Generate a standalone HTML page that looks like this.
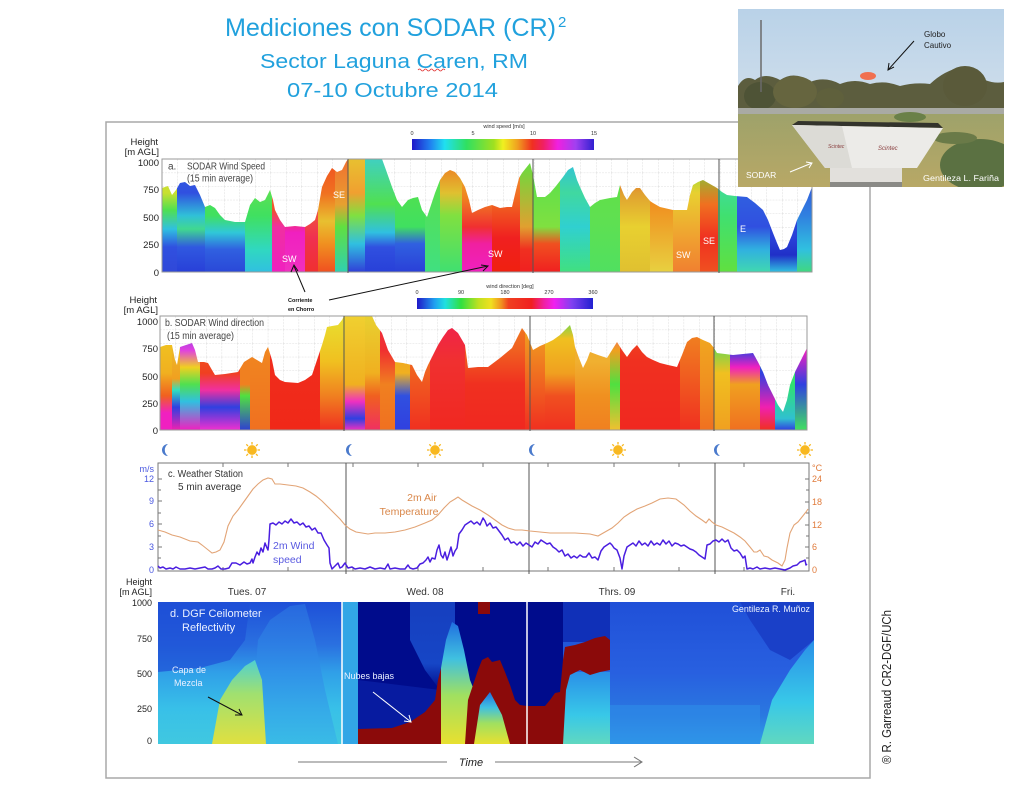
<!DOCTYPE html>
<html><head><meta charset="utf-8"><style>html,body{margin:0;padding:0;background:#fff}svg{display:block}</style></head><body>
<svg width="1031" height="788" viewBox="0 0 1031 788" xmlns="http://www.w3.org/2000/svg" font-family="Liberation Sans, Arial, sans-serif">
<defs>
<linearGradient id="cbA" x1="0" x2="1" y1="0" y2="0"><stop offset="0" stop-color="#2018c8"/><stop offset=".1" stop-color="#2080f0"/><stop offset=".18" stop-color="#20e0f0"/><stop offset=".3" stop-color="#30e060"/><stop offset=".45" stop-color="#a0e020"/><stop offset=".5" stop-color="#f0f020"/><stop offset=".58" stop-color="#f0a020"/><stop offset=".66" stop-color="#f03020"/><stop offset=".72" stop-color="#f02060"/><stop offset=".8" stop-color="#f020e0"/><stop offset=".9" stop-color="#a040f0"/><stop offset="1" stop-color="#3020d0"/></linearGradient>
<linearGradient id="cbB" x1="0" x2="1" y1="0" y2="0"><stop offset="0" stop-color="#2018c8"/><stop offset=".1" stop-color="#20a0f0"/><stop offset=".16" stop-color="#20e0e0"/><stop offset=".25" stop-color="#30e040"/><stop offset=".35" stop-color="#c0e020"/><stop offset=".42" stop-color="#f0e020"/><stop offset=".48" stop-color="#f09020"/><stop offset=".52" stop-color="#f04020"/><stop offset=".65" stop-color="#f02020"/><stop offset=".72" stop-color="#f020a0"/><stop offset=".78" stop-color="#f020f0"/><stop offset=".88" stop-color="#8040f0"/><stop offset="1" stop-color="#2020d0"/></linearGradient>

<pattern id="gridA" x="162" y="159" width="15.5" height="13.6" patternUnits="userSpaceOnUse"><path d="M0 0V13.6M0 0H15.5" stroke="#d4d4d4" stroke-width="0.8" fill="none" stroke-dasharray="2 1"/></pattern>
<pattern id="gridB" x="160" y="316" width="15.4" height="13.6" patternUnits="userSpaceOnUse"><path d="M0 0V13.6M0 0H15.4" stroke="#d4d4d4" stroke-width="0.8" fill="none" stroke-dasharray="2 1"/></pattern>

<clipPath id="clipA"><polygon points="162,188 168,186 172,195 176,190 180,183 185,182 190,186 195,185 200,195 205,207 210,205 215,208 220,215 225,220 235,222 245,222 250,205 255,198 260,202 265,200 270,190 273,200 275,210 280,220 285,227 295,226 305,227 310,224 315,220 318,210 322,187 327,176 332,168 337,172 342,170 346,162 348,159 382,159 386,170 392,187 397,200 402,207 408,200 413,198 418,197 422,210 427,217 431,205 435,193 440,180 445,173 450,170 455,172 460,178 465,187 469,200 472,213 478,210 485,207 492,205 500,208 507,207 512,207 516,190 519,178 522,173 526,168 530,163 533,175 537,197 545,197 550,193 556,186 563,177 568,170 573,167 577,180 580,187 585,198 590,207 595,203 600,200 610,198 617,197 620,185 624,195 627,200 632,192 636,188 640,188 645,195 650,201 653,203 660,207 673,210 680,210 687,210 690,195 693,185 698,182 703,180 710,184 717,188 722,192 727,195 735,196 747,197 755,203 763,210 768,220 773,233 777,243 780,250 784,249 787,247 792,235 797,220 802,210 807,200 812,187 812,272 162,272"/></clipPath>
<clipPath id="clipB"><polygon points="160,347 166,345 172,345 175,360 177,365 180,347 186,345 192,343 195,350 198,362 204,362 208,363 212,370 215,375 225,374 238,372 244,362 252,357 257,360 262,363 265,352 268,347 272,360 275,375 280,380 285,382 298,383 305,380 312,375 317,360 322,345 325,335 327,327 332,326 338,325 342,320 344,316 372,316 376,325 382,333 388,350 395,362 403,363 412,365 417,375 422,382 425,372 428,365 433,355 438,345 443,337 448,330 452,328 458,333 465,345 467,360 468,368 478,367 488,367 500,358 512,348 517,338 522,328 527,335 533,350 540,346 547,343 553,340 560,335 565,330 570,325 573,335 575,347 579,358 583,368 587,360 590,352 598,355 607,358 612,350 617,342 622,350 627,357 632,350 637,345 642,352 647,357 653,360 660,363 668,365 677,367 682,355 687,342 692,338 697,337 703,340 710,343 714,348 717,353 725,354 733,355 743,354 753,353 758,362 763,372 768,385 773,395 778,405 783,412 787,400 790,385 795,372 800,362 804,354 807,348 807,430 160,430"/></clipPath>
<clipPath id="clipD"><rect x="158" y="602" width="656" height="142"/></clipPath>
<clipPath id="clipP"><rect x="738" y="9" width="266" height="178"/></clipPath>

<linearGradient id="a1" x1="0" y1="0" x2="0" y2="1"><stop offset="0" stop-color="#d8e030"/><stop offset=".3" stop-color="#c8e030"/><stop offset=".45" stop-color="#50e050"/><stop offset=".62" stop-color="#30c0e0"/><stop offset=".78" stop-color="#3050e0"/><stop offset="1" stop-color="#3048d8"/></linearGradient>
<linearGradient id="a2" x1="0" y1="0" x2="0" y2="1"><stop offset="0" stop-color="#3060e0"/><stop offset=".3" stop-color="#3050e0"/><stop offset=".5" stop-color="#30c0d8"/><stop offset=".62" stop-color="#40d890"/><stop offset=".78" stop-color="#3058e0"/><stop offset="1" stop-color="#2840d8"/></linearGradient>
<linearGradient id="a3" x1="0" y1="0" x2="0" y2="1"><stop offset="0" stop-color="#60e040"/><stop offset=".5" stop-color="#40e060"/><stop offset=".65" stop-color="#30c8d8"/><stop offset=".8" stop-color="#3060e0"/><stop offset="1" stop-color="#2a48d8"/></linearGradient>
<linearGradient id="a4" x1="0" y1="0" x2="0" y2="1"><stop offset="0" stop-color="#80e040"/><stop offset=".5" stop-color="#40e060"/><stop offset=".8" stop-color="#30d8c0"/><stop offset="1" stop-color="#30c0e0"/></linearGradient>
<linearGradient id="a5" x1="0" y1="0" x2="0" y2="1"><stop offset="0" stop-color="#f09020"/><stop offset=".45" stop-color="#f05030"/><stop offset=".6" stop-color="#f030a0"/><stop offset="1" stop-color="#f020c0"/></linearGradient>
<linearGradient id="a6" x1="0" y1="0" x2="0" y2="1"><stop offset="0" stop-color="#f04020"/><stop offset=".55" stop-color="#f03070"/><stop offset=".65" stop-color="#f020c0"/><stop offset="1" stop-color="#f030c0"/></linearGradient>
<linearGradient id="a7" x1="0" y1="0" x2="0" y2="1"><stop offset="0" stop-color="#f07020"/><stop offset=".5" stop-color="#f05040"/><stop offset=".7" stop-color="#f03050"/><stop offset="1" stop-color="#f03030"/></linearGradient>
<linearGradient id="a8" x1="0" y1="0" x2="0" y2="1"><stop offset="0" stop-color="#f05020"/><stop offset=".3" stop-color="#f07020"/><stop offset=".55" stop-color="#e8c030"/><stop offset=".75" stop-color="#f09020"/><stop offset="1" stop-color="#f05020"/></linearGradient>
<linearGradient id="a9" x1="0" y1="0" x2="0" y2="1"><stop offset="0" stop-color="#f07030"/><stop offset=".4" stop-color="#e8a030"/><stop offset=".6" stop-color="#60e040"/><stop offset="1" stop-color="#30d0b0"/></linearGradient>
<linearGradient id="a10" x1="0" y1="0" x2="0" y2="1"><stop offset="0" stop-color="#e8c030"/><stop offset=".3" stop-color="#f0a030"/><stop offset=".5" stop-color="#80e040"/><stop offset=".75" stop-color="#30c0e0"/><stop offset="1" stop-color="#3040d8"/></linearGradient>
<linearGradient id="a11" x1="0" y1="0" x2="0" y2="1"><stop offset="0" stop-color="#40d0c0"/><stop offset=".4" stop-color="#50e050"/><stop offset=".65" stop-color="#30c0e0"/><stop offset=".78" stop-color="#3050e0"/><stop offset="1" stop-color="#2840d8"/></linearGradient>
<linearGradient id="a12" x1="0" y1="0" x2="0" y2="1"><stop offset="0" stop-color="#60e040"/><stop offset=".6" stop-color="#40e060"/><stop offset=".75" stop-color="#3060e0"/><stop offset="1" stop-color="#2a40d8"/></linearGradient>
<linearGradient id="a13" x1="0" y1="0" x2="0" y2="1"><stop offset="0" stop-color="#60e040"/><stop offset="1" stop-color="#40e080"/></linearGradient>
<linearGradient id="a14" x1="0" y1="0" x2="0" y2="1"><stop offset="0" stop-color="#f07020"/><stop offset=".3" stop-color="#e0c030"/><stop offset=".5" stop-color="#80e040"/><stop offset="1" stop-color="#40e070"/></linearGradient>
<linearGradient id="a15" x1="0" y1="0" x2="0" y2="1"><stop offset="0" stop-color="#e8c030"/><stop offset=".35" stop-color="#f08020"/><stop offset=".6" stop-color="#f03030"/><stop offset=".75" stop-color="#f020a0"/><stop offset="1" stop-color="#f020c0"/></linearGradient>
<linearGradient id="a16" x1="0" y1="0" x2="0" y2="1"><stop offset="0" stop-color="#f0a030"/><stop offset=".4" stop-color="#f06020"/><stop offset=".7" stop-color="#f02020"/><stop offset="1" stop-color="#f02010"/></linearGradient>
<linearGradient id="a17" x1="0" y1="0" x2="0" y2="1"><stop offset="0" stop-color="#60e040"/><stop offset=".6" stop-color="#e0a030"/><stop offset=".8" stop-color="#f03020"/><stop offset="1" stop-color="#f02020"/></linearGradient>
<linearGradient id="a18" x1="0" y1="0" x2="0" y2="1"><stop offset="0" stop-color="#50e050"/><stop offset=".6" stop-color="#80e040"/><stop offset=".75" stop-color="#f05020"/><stop offset="1" stop-color="#f02020"/></linearGradient>
<linearGradient id="a19" x1="0" y1="0" x2="0" y2="1"><stop offset="0" stop-color="#30c0e0"/><stop offset=".3" stop-color="#40d8a0"/><stop offset=".6" stop-color="#30d0d0"/><stop offset="1" stop-color="#40e080"/></linearGradient>
<linearGradient id="a20" x1="0" y1="0" x2="0" y2="1"><stop offset="0" stop-color="#60e040"/><stop offset=".5" stop-color="#60e050"/><stop offset="1" stop-color="#50e060"/></linearGradient>
<linearGradient id="a21" x1="0" y1="0" x2="0" y2="1"><stop offset="0" stop-color="#f04020"/><stop offset=".3" stop-color="#e0a030"/><stop offset=".6" stop-color="#e8d030"/><stop offset="1" stop-color="#e0c030"/></linearGradient>
<linearGradient id="a22" x1="0" y1="0" x2="0" y2="1"><stop offset="0" stop-color="#f06020"/><stop offset=".4" stop-color="#f09020"/><stop offset="1" stop-color="#e8d040"/></linearGradient>
<linearGradient id="a23" x1="0" y1="0" x2="0" y2="1"><stop offset="0" stop-color="#70e040"/><stop offset=".3" stop-color="#e8d030"/><stop offset=".7" stop-color="#f0a030"/><stop offset="1" stop-color="#f08030"/></linearGradient>
<linearGradient id="a24" x1="0" y1="0" x2="0" y2="1"><stop offset="0" stop-color="#60e040"/><stop offset=".4" stop-color="#f07020"/><stop offset=".7" stop-color="#f03020"/><stop offset="1" stop-color="#f05020"/></linearGradient>
<linearGradient id="a25" x1="0" y1="0" x2="0" y2="1"><stop offset="0" stop-color="#40d8c0"/><stop offset=".5" stop-color="#40e070"/><stop offset="1" stop-color="#60e040"/></linearGradient>
<linearGradient id="a26" x1="0" y1="0" x2="0" y2="1"><stop offset="0" stop-color="#30c0e0"/><stop offset=".3" stop-color="#3060e0"/><stop offset=".6" stop-color="#3050e0"/><stop offset=".8" stop-color="#30b0e0"/><stop offset="1" stop-color="#40d8b0"/></linearGradient>
<linearGradient id="a27" x1="0" y1="0" x2="0" y2="1"><stop offset="0" stop-color="#3060e0"/><stop offset=".7" stop-color="#2a40d8"/><stop offset=".85" stop-color="#2030c8"/><stop offset="1" stop-color="#30c0e0"/></linearGradient>
<linearGradient id="a28" x1="0" y1="0" x2="0" y2="1"><stop offset="0" stop-color="#3040d8"/><stop offset=".5" stop-color="#3080e0"/><stop offset=".8" stop-color="#30c0e0"/><stop offset="1" stop-color="#40d880"/></linearGradient>

<linearGradient id="b1" x1="0" y1="0" x2="0" y2="1"><stop offset="0" stop-color="#f0d020"/><stop offset=".5" stop-color="#f0b020"/><stop offset=".7" stop-color="#f06020"/><stop offset=".85" stop-color="#f020c0"/><stop offset="1" stop-color="#f020c0"/></linearGradient>
<linearGradient id="b2" x1="0" y1="0" x2="0" y2="1"><stop offset="0" stop-color="#e8d030"/><stop offset=".55" stop-color="#f0a020"/><stop offset=".65" stop-color="#30e0c0"/><stop offset=".8" stop-color="#3040e0"/><stop offset="1" stop-color="#f020b0"/></linearGradient>
<linearGradient id="b3" x1="0" y1="0" x2="0" y2="1"><stop offset="0" stop-color="#3040e0"/><stop offset=".3" stop-color="#e040e0"/><stop offset=".45" stop-color="#f0d020"/><stop offset=".6" stop-color="#50e050"/><stop offset=".75" stop-color="#30c0e0"/><stop offset="1" stop-color="#f020c0"/></linearGradient>
<linearGradient id="b4" x1="0" y1="0" x2="0" y2="1"><stop offset="0" stop-color="#f07020"/><stop offset=".5" stop-color="#f04020"/><stop offset=".65" stop-color="#f030a0"/><stop offset=".8" stop-color="#3040e0"/><stop offset="1" stop-color="#f030d0"/></linearGradient>
<linearGradient id="b5" x1="0" y1="0" x2="0" y2="1"><stop offset="0" stop-color="#f08020"/><stop offset=".6" stop-color="#f08020"/><stop offset=".7" stop-color="#50e040"/><stop offset="1" stop-color="#3040d0"/></linearGradient>
<linearGradient id="b6" x1="0" y1="0" x2="0" y2="1"><stop offset="0" stop-color="#f09020"/><stop offset="1" stop-color="#f07020"/></linearGradient>
<linearGradient id="b7" x1="0" y1="0" x2="0" y2="1"><stop offset="0" stop-color="#f03020"/><stop offset="1" stop-color="#f02818"/></linearGradient>
<linearGradient id="b8" x1="0" y1="0" x2="0" y2="1"><stop offset="0" stop-color="#e8e030"/><stop offset=".4" stop-color="#f0c020"/><stop offset=".7" stop-color="#f08020"/><stop offset="1" stop-color="#f03020"/></linearGradient>
<linearGradient id="b9" x1="0" y1="0" x2="0" y2="1"><stop offset="0" stop-color="#f0d030"/><stop offset=".6" stop-color="#f0b020"/><stop offset=".75" stop-color="#f030c0"/><stop offset=".9" stop-color="#3040e0"/><stop offset="1" stop-color="#f030c0"/></linearGradient>
<linearGradient id="b10" x1="0" y1="0" x2="0" y2="1"><stop offset="0" stop-color="#e8d030"/><stop offset=".5" stop-color="#f0b020"/><stop offset=".7" stop-color="#f06020"/><stop offset="1" stop-color="#f03060"/></linearGradient>
<linearGradient id="b11" x1="0" y1="0" x2="0" y2="1"><stop offset="0" stop-color="#f03040"/><stop offset=".3" stop-color="#f03030"/><stop offset=".6" stop-color="#f08020"/><stop offset="1" stop-color="#f07020"/></linearGradient>
<linearGradient id="b12" x1="0" y1="0" x2="0" y2="1"><stop offset="0" stop-color="#f09020"/><stop offset=".5" stop-color="#f0b020"/><stop offset=".7" stop-color="#3050e0"/><stop offset="1" stop-color="#3040e0"/></linearGradient>
<linearGradient id="b13" x1="0" y1="0" x2="0" y2="1"><stop offset="0" stop-color="#f08020"/><stop offset=".5" stop-color="#f06020"/><stop offset="1" stop-color="#f03020"/></linearGradient>
<linearGradient id="b14" x1="0" y1="0" x2="0" y2="1"><stop offset="0" stop-color="#f02050"/><stop offset=".4" stop-color="#f03030"/><stop offset="1" stop-color="#f02820"/></linearGradient>
<linearGradient id="b15" x1="0" y1="0" x2="0" y2="1"><stop offset="0" stop-color="#f08020"/><stop offset=".3" stop-color="#f06020"/><stop offset=".6" stop-color="#f03020"/><stop offset="1" stop-color="#f02820"/></linearGradient>
<linearGradient id="b16" x1="0" y1="0" x2="0" y2="1"><stop offset="0" stop-color="#f0b020"/><stop offset=".5" stop-color="#f07020"/><stop offset="1" stop-color="#f03020"/></linearGradient>
<linearGradient id="b17" x1="0" y1="0" x2="0" y2="1"><stop offset="0" stop-color="#40e060"/><stop offset=".2" stop-color="#f0c020"/><stop offset=".5" stop-color="#f0a020"/><stop offset=".7" stop-color="#f05020"/><stop offset="1" stop-color="#f03020"/></linearGradient>
<linearGradient id="b18" x1="0" y1="0" x2="0" y2="1"><stop offset="0" stop-color="#f0a020"/><stop offset=".4" stop-color="#f0b030"/><stop offset=".7" stop-color="#f09020"/><stop offset="1" stop-color="#f08020"/></linearGradient>
<linearGradient id="b19" x1="0" y1="0" x2="0" y2="1"><stop offset="0" stop-color="#f020c0"/><stop offset=".3" stop-color="#f0a020"/><stop offset=".6" stop-color="#50e040"/><stop offset="1" stop-color="#f0c030"/></linearGradient>
<linearGradient id="b20" x1="0" y1="0" x2="0" y2="1"><stop offset="0" stop-color="#f05020"/><stop offset=".4" stop-color="#f03020"/><stop offset="1" stop-color="#f02820"/></linearGradient>
<linearGradient id="b21" x1="0" y1="0" x2="0" y2="1"><stop offset="0" stop-color="#f09020"/><stop offset="1" stop-color="#f03020"/></linearGradient>
<linearGradient id="b22" x1="0" y1="0" x2="0" y2="1"><stop offset="0" stop-color="#f0b020"/><stop offset=".6" stop-color="#f09020"/><stop offset="1" stop-color="#f07020"/></linearGradient>
<linearGradient id="b23" x1="0" y1="0" x2="0" y2="1"><stop offset="0" stop-color="#3040e0"/><stop offset=".2" stop-color="#40e060"/><stop offset=".5" stop-color="#f0c020"/><stop offset="1" stop-color="#f0a020"/></linearGradient>
<linearGradient id="b24" x1="0" y1="0" x2="0" y2="1"><stop offset="0" stop-color="#40e060"/><stop offset=".3" stop-color="#3040e0"/><stop offset=".45" stop-color="#f020c0"/><stop offset=".6" stop-color="#f0a020"/><stop offset="1" stop-color="#f07020"/></linearGradient>
<linearGradient id="b25" x1="0" y1="0" x2="0" y2="1"><stop offset="0" stop-color="#40e060"/><stop offset=".5" stop-color="#3040e0"/><stop offset=".8" stop-color="#f020b0"/><stop offset="1" stop-color="#f03020"/></linearGradient>
<linearGradient id="b26" x1="0" y1="0" x2="0" y2="1"><stop offset="0" stop-color="#40e060"/><stop offset=".6" stop-color="#30e070"/><stop offset=".9" stop-color="#30c0d0"/><stop offset="1" stop-color="#3040e0"/></linearGradient>
<linearGradient id="b27" x1="0" y1="0" x2="0" y2="1"><stop offset="0" stop-color="#3040e0"/><stop offset=".3" stop-color="#f020c0"/><stop offset=".6" stop-color="#3040e0"/><stop offset="1" stop-color="#40e060"/></linearGradient>

<linearGradient id="dBase" x1="0" y1="0" x2="0" y2="1"><stop offset="0" stop-color="#1e4ad4"/><stop offset=".35" stop-color="#2258dc"/><stop offset=".6" stop-color="#2a70e0"/><stop offset=".85" stop-color="#3090e8"/><stop offset="1" stop-color="#30a8e8"/></linearGradient>
<linearGradient id="dLeft" x1="0" y1="0" x2="0" y2="1"><stop offset="0" stop-color="#1e50d8"/><stop offset=".3" stop-color="#2a70e0"/><stop offset=".5" stop-color="#30a0e8"/><stop offset=".75" stop-color="#38c0e8"/><stop offset="1" stop-color="#40c8e0"/></linearGradient>
<linearGradient id="dStreak" x1="0" y1="0" x2="0" y2="1"><stop offset="0" stop-color="#2a6ee0"/><stop offset=".5" stop-color="#3090e8"/><stop offset="1" stop-color="#38b8e8"/></linearGradient>
<linearGradient id="dMid" x1="0" y1="0" x2="0" y2="1"><stop offset="0" stop-color="#1a48c8"/><stop offset=".7" stop-color="#1a50d0"/><stop offset="1" stop-color="#1a50d0" stop-opacity="0"/></linearGradient>
<linearGradient id="dYel" x1="0" y1="0" x2="0" y2="1"><stop offset="0" stop-color="#50d0d0"/><stop offset=".4" stop-color="#a0e070"/><stop offset="1" stop-color="#e0e040"/></linearGradient>
<linearGradient id="dPlume" x1="0" y1="0" x2="0" y2="1"><stop offset="0" stop-color="#2070e0"/><stop offset=".3" stop-color="#40c0e0"/><stop offset=".6" stop-color="#a0e060"/><stop offset="1" stop-color="#e8e030"/></linearGradient>
<linearGradient id="dCyan" x1="0" y1="0" x2="0" y2="1"><stop offset="0" stop-color="#2a90e8"/><stop offset=".6" stop-color="#38c8e8"/><stop offset="1" stop-color="#60d8c0"/></linearGradient>
<linearGradient id="dRight" x1="0" y1="0" x2="0" y2="1"><stop offset="0" stop-color="#2050d8"/><stop offset=".5" stop-color="#2860e0"/><stop offset=".8" stop-color="#2a78e0"/><stop offset="1" stop-color="#30a0e8"/></linearGradient>

<linearGradient id="sky" x1="0" y1="0" x2="0" y2="1"><stop offset="0" stop-color="#b9d2e8"/><stop offset="1" stop-color="#e2e8ee"/></linearGradient>
<linearGradient id="grass" x1="0" y1="0" x2="0" y2="1"><stop offset="0" stop-color="#9ea26a"/><stop offset="1" stop-color="#b8a866"/></linearGradient>
</defs>

<rect width="1031" height="788" fill="#fff"/>

<g fill="#21a1dd">
<text x="225" y="36" font-size="25" textLength="331" lengthAdjust="spacingAndGlyphs">Mediciones  con SODAR (CR)</text>
<text x="558" y="27" font-size="15">2</text>
<text x="260" y="68" font-size="20" textLength="268" lengthAdjust="spacingAndGlyphs">Sector Laguna  Caren, RM</text>
<text x="287" y="97" font-size="20" textLength="211" lengthAdjust="spacingAndGlyphs">07-10 Octubre 2014</text>
</g>
<path d="M418 70 q1.5 -2 3 0 t3 0 t3 0 t3 0 t3 0 t3 0 t3 0 t3 0 t3 0" stroke="#e03030" fill="none" stroke-width=".8"/>

<rect x="106" y="122" width="764" height="656" fill="none" stroke="#a8a8a8" stroke-width="1.5"/>

<!-- Panel a -->
<rect x="162" y="159" width="650" height="113" fill="url(#gridA)"/>
<g clip-path="url(#clipA)">
<rect x="162" y="159" width="15" height="113" fill="url(#a1)"/>
<rect x="177" y="159" width="28" height="113" fill="url(#a2)"/>
<rect x="205" y="159" width="40" height="113" fill="url(#a3)"/>
<rect x="245" y="159" width="27" height="113" fill="url(#a4)"/>
<rect x="272" y="159" width="13" height="113" fill="url(#a5)"/>
<rect x="285" y="159" width="20" height="113" fill="url(#a6)"/>
<rect x="305" y="159" width="13" height="113" fill="url(#a7)"/>
<rect x="318" y="159" width="17" height="113" fill="url(#a8)"/>
<rect x="335" y="159" width="13" height="113" fill="url(#a9)"/>
<rect x="348" y="159" width="17" height="113" fill="url(#a10)"/>
<rect x="365" y="159" width="30" height="113" fill="url(#a11)"/>
<rect x="395" y="159" width="30" height="113" fill="url(#a12)"/>
<rect x="425" y="159" width="15" height="113" fill="url(#a13)"/>
<rect x="440" y="159" width="22" height="113" fill="url(#a14)"/>
<rect x="462" y="159" width="30" height="113" fill="url(#a15)"/>
<rect x="492" y="159" width="28" height="113" fill="url(#a16)"/>
<rect x="520" y="159" width="13" height="113" fill="url(#a17)"/>
<rect x="533" y="159" width="27" height="113" fill="url(#a18)"/>
<rect x="560" y="159" width="30" height="113" fill="url(#a19)"/>
<rect x="590" y="159" width="30" height="113" fill="url(#a20)"/>
<rect x="620" y="159" width="30" height="113" fill="url(#a21)"/>
<rect x="650" y="159" width="23" height="113" fill="url(#a22)"/>
<rect x="673" y="159" width="27" height="113" fill="url(#a23)"/>
<rect x="700" y="159" width="18" height="113" fill="url(#a24)"/>
<rect x="718" y="159" width="19" height="113" fill="url(#a25)"/>
<rect x="737" y="159" width="33" height="113" fill="url(#a26)"/>
<rect x="770" y="159" width="27" height="113" fill="url(#a27)"/>
<rect x="797" y="159" width="15" height="113" fill="url(#a28)"/>
</g>
<rect x="162" y="159" width="650" height="113" fill="none" stroke="#999" stroke-width="1"/>
<g stroke="#555" stroke-width="1"><line x1="348" y1="159" x2="348" y2="273"/><line x1="533" y1="159" x2="533" y2="273"/><line x1="719" y1="159" x2="719" y2="273"/></g>
<g font-size="9.5" fill="#222" text-anchor="end">
<text x="158" y="145">Height</text><text x="159" y="155">[m AGL]</text>
<text x="159" y="166">1000</text><text x="159" y="193">750</text><text x="159" y="221">500</text><text x="159" y="248">250</text><text x="159" y="276">0</text>
</g>
<g font-size="10" fill="#444"><text x="168" y="169.5">a.</text><text x="187" y="169.5" textLength="78" lengthAdjust="spacingAndGlyphs">SODAR Wind Speed</text><text x="187" y="181.5" textLength="66" lengthAdjust="spacingAndGlyphs">(15 min average)</text></g>
<g font-size="9" fill="#fff"><text x="333" y="198">SE</text><text x="282" y="262">SW</text><text x="488" y="257">SW</text><text x="676" y="258">SW</text><text x="703" y="244">SE</text><text x="740" y="232">E</text></g>
<rect x="412" y="139" width="182" height="11" fill="url(#cbA)"/>
<g font-size="5.5" fill="#333" text-anchor="middle"><text x="412" y="135">0</text><text x="473" y="135">5</text><text x="533" y="135">10</text><text x="594" y="135">15</text><text x="504" y="128">wind speed [m/s]</text></g>

<g stroke="#111" stroke-width="1" fill="none"><line x1="305" y1="292" x2="294" y2="266"/><path d="M291 272 L294 265 L298 271"/><line x1="329" y1="300" x2="488" y2="266"/><path d="M481 265 L488 266 L483 271"/></g>
<g font-size="5.5" fill="#111" font-weight="bold"><text x="288" y="302">Corriente</text><text x="288" y="311">en Chorro</text></g>

<!-- Panel b -->
<rect x="160" y="316" width="647" height="114" fill="url(#gridB)"/>
<g clip-path="url(#clipB)">
<rect x="160" y="316" width="12" height="114" fill="url(#b1)"/>
<rect x="172" y="316" width="8" height="114" fill="url(#b2)"/>
<rect x="180" y="316" width="20" height="114" fill="url(#b3)"/>
<rect x="200" y="316" width="40" height="114" fill="url(#b4)"/>
<rect x="240" y="316" width="10" height="114" fill="url(#b5)"/>
<rect x="250" y="316" width="20" height="114" fill="url(#b6)"/>
<rect x="270" y="316" width="50" height="114" fill="url(#b7)"/>
<rect x="320" y="316" width="25" height="114" fill="url(#b8)"/>
<rect x="345" y="316" width="20" height="114" fill="url(#b9)"/>
<rect x="365" y="316" width="15" height="114" fill="url(#b10)"/>
<rect x="380" y="316" width="15" height="114" fill="url(#b11)"/>
<rect x="395" y="316" width="15" height="114" fill="url(#b12)"/>
<rect x="410" y="316" width="20" height="114" fill="url(#b13)"/>
<rect x="430" y="316" width="35" height="114" fill="url(#b14)"/>
<rect x="465" y="316" width="60" height="114" fill="url(#b15)"/>
<rect x="525" y="316" width="20" height="114" fill="url(#b16)"/>
<rect x="545" y="316" width="30" height="114" fill="url(#b17)"/>
<rect x="575" y="316" width="35" height="114" fill="url(#b18)"/>
<rect x="610" y="316" width="10" height="114" fill="url(#b19)"/>
<rect x="620" y="316" width="60" height="114" fill="url(#b20)"/>
<rect x="680" y="316" width="20" height="114" fill="url(#b21)"/>
<rect x="700" y="316" width="14" height="114" fill="url(#b22)"/>
<rect x="714" y="316" width="16" height="114" fill="url(#b23)"/>
<rect x="730" y="316" width="30" height="114" fill="url(#b24)"/>
<rect x="760" y="316" width="15" height="114" fill="url(#b25)"/>
<rect x="775" y="316" width="20" height="114" fill="url(#b26)"/>
<rect x="795" y="316" width="12" height="114" fill="url(#b27)"/>
</g>
<rect x="160" y="316" width="647" height="114" fill="none" stroke="#999" stroke-width="1"/>
<g stroke="#555" stroke-width="1"><line x1="344" y1="316" x2="344" y2="431"/><line x1="530" y1="316" x2="530" y2="431"/><line x1="714" y1="316" x2="714" y2="431"/></g>
<g font-size="9.5" fill="#222" text-anchor="end">
<text x="157" y="303">Height</text><text x="158" y="313">[m AGL]</text>
<text x="158" y="325">1000</text><text x="158" y="352">750</text><text x="158" y="380">500</text><text x="158" y="407">250</text><text x="158" y="434">0</text>
</g>
<g font-size="10" fill="#444"><text x="165" y="326" textLength="99" lengthAdjust="spacingAndGlyphs">b. SODAR Wind direction</text><text x="167" y="339" textLength="67" lengthAdjust="spacingAndGlyphs">(15 min average)</text></g>
<rect x="417" y="298" width="176" height="11" fill="url(#cbB)"/>
<g font-size="5.5" fill="#333" text-anchor="middle"><text x="417" y="294">0</text><text x="461" y="294">90</text><text x="505" y="294">180</text><text x="549" y="294">270</text><text x="593" y="294">360</text><text x="510" y="288">wind direction [deg]</text></g>

<!-- moons & suns -->
<g fill="#4a7acc">
<path d="M168 444 A6 6 0 0 0 168 456 A7.2 7.2 0 0 1 168 444 Z"/>
<path d="M352 444 A6 6 0 0 0 352 456 A7.2 7.2 0 0 1 352 444 Z"/>
<path d="M535 444 A6 6 0 0 0 535 456 A7.2 7.2 0 0 1 535 444 Z"/>
<path d="M720 444 A6 6 0 0 0 720 456 A7.2 7.2 0 0 1 720 444 Z"/>
</g>
<g fill="#f8b820" stroke="#f8b820" stroke-width="1.3">
<g transform="translate(252,450)"><circle r="4.2"/><path d="M0 -8V-5.5M0 8V5.5M-8 0H-5.5M8 0H5.5M-5.7 -5.7L-4 -4M5.7 5.7L4 4M-5.7 5.7L-4 4M5.7 -5.7L4 -4"/></g>
<g transform="translate(435,450)"><circle r="4.2"/><path d="M0 -8V-5.5M0 8V5.5M-8 0H-5.5M8 0H5.5M-5.7 -5.7L-4 -4M5.7 5.7L4 4M-5.7 5.7L-4 4M5.7 -5.7L4 -4"/></g>
<g transform="translate(618,450)"><circle r="4.2"/><path d="M0 -8V-5.5M0 8V5.5M-8 0H-5.5M8 0H5.5M-5.7 -5.7L-4 -4M5.7 5.7L4 4M-5.7 5.7L-4 4M5.7 -5.7L4 -4"/></g>
<g transform="translate(805,450)"><circle r="4.2"/><path d="M0 -8V-5.5M0 8V5.5M-8 0H-5.5M8 0H5.5M-5.7 -5.7L-4 -4M5.7 5.7L4 4M-5.7 5.7L-4 4M5.7 -5.7L4 -4"/></g>
</g>

<!-- Panel c -->
<rect x="158" y="463" width="651" height="108" fill="none" stroke="#777" stroke-width="1"/>
<g stroke="#555" stroke-width="1"><line x1="346" y1="463" x2="346" y2="574"/><line x1="529" y1="463" x2="529" y2="574"/><line x1="715" y1="463" x2="715" y2="574"/></g>
<g stroke="#777" stroke-width="1">
<path d="M223 463v4M288 463v4M353 463v4M418 463v4M483 463v4M548 463v4M614 463v4M679 463v4M744 463v4"/>
<path d="M223 571v-4M288 571v-4M353 571v-4M418 571v-4M483 571v-4M548 571v-4M614 571v-4M679 571v-4M744 571v-4"/>
<path d="M158 479h4M158 490h3M158 501h4M158 513h3M158 524h4M158 536h3M158 547h4M158 558h3"/>
<path d="M809 479h-4M809 490h-3M809 502h-4M809 513h-3M809 525h-4M809 536h-3M809 547h-4M809 558h-3"/>
</g>
<g font-size="9" fill="#4a58e0" text-anchor="end"><text x="154" y="472">m/s</text><text x="154" y="482">12</text><text x="154" y="504">9</text><text x="154" y="527">6</text><text x="154" y="550">3</text><text x="154" y="573">0</text></g>
<g font-size="9" fill="#e07a3a"><text x="812" y="471">°C</text><text x="812" y="482">24</text><text x="812" y="505">18</text><text x="812" y="528">12</text><text x="812" y="550">6</text><text x="812" y="573">0</text></g>

<polyline fill="none" stroke="#e2a476" stroke-width="1.1" points="158,530 165,532 172,535 180,537 190,541 198,542 202,545 207,549 212,553 216,552 220,550 224,542 228,526 233,516 238,510 243,503 248,496 253,489 258,484 263,480 268,478 272,479 275,484 280,484 288,485 296,486 303,488 310,492 316,496 322,501 328,507 334,513 340,519 345,525 350,529 356,532 362,533 368,534 375,533 385,533 395,532 405,530 415,527 425,523 432,520 438,515 444,508 450,502 455,499 458,497 462,500 467,503 472,506 480,510 488,515 495,520 502,525 508,528 515,530 522,530 530,531 540,532 550,533 560,533 575,533 590,534 598,536 605,532 612,528 618,523 624,517 630,513 637,509 645,506 652,503 660,499 668,498 676,499 684,505 690,511 696,516 702,520 706,523 709,519 712,522 716,525 722,527 728,530 734,533 740,537 745,541 750,547 754,552 757,552 760,550 764,556 768,557 772,560 778,563 782,566 785,560 787,548 790,533 794,525 798,522 802,517 806,512 808,509"/>
<polyline fill="none" stroke="#4a1ee0" stroke-width="1.5" stroke-linejoin="round" points="158,566 160,568 163,567 166,569 170,568 173,569 176,567 180,569 185,569 190,568 195,569 200,568 205,567 208,569 212,569 215,568 218,566 221,569 225,569 229,568 232,563 236,563 240,565 244,562 247,564 250,563 252,559 253,563 255,557 257,552 259,555 261,548 263,552 265,543 267,548 268,550 269,540 270,524 273,523 276,525 279,522 282,524 285,521 288,523 291,519 294,523 297,522 300,525 303,523 306,527 309,526 312,530 315,528 318,533 321,533 324,540 327,545 329,548 330,563 332,569 335,566 338,563 340,568 342,567 345,563 348,568 352,567 355,569 360,568 365,569 370,567 375,569 380,568 385,569 388,564 390,569 395,568 400,569 405,569 408,565 410,568 413,569 417,568 420,564 423,563 426,560 428,557 430,562 432,558 435,559 437,550 439,545 441,555 443,558 445,552 447,560 449,554 451,547 453,556 455,551 457,548 459,534 462,530 465,525 468,523 471,521 474,524 477,522 480,525 483,518 485,521 487,526 490,523 493,528 496,527 499,531 502,535 505,540 508,538 511,543 514,542 517,545 520,542 523,546 526,543 529,545 532,547 535,542 538,544 541,540 544,542 547,544 550,543 553,547 556,549 559,552 562,550 565,556 568,554 571,558 574,556 577,558 580,555 583,557 586,557 589,553 592,558 595,557 598,560 601,551 604,547 607,545 610,543 612,545 614,548 617,550 620,558 622,569 624,556 627,547 630,545 633,543 636,546 639,541 642,545 645,543 648,546 651,541 654,545 657,543 660,545 663,540 666,544 669,541 672,546 675,543 678,544 681,546 684,545 687,547 690,549 693,550 696,552 699,555 702,557 705,559 707,545 710,544 713,541 716,540 719,542 722,539 725,542 728,540 731,548 734,551 737,550 740,553 743,558 745,556 747,569 750,568 753,569 757,567 760,569 765,568 770,569 775,568 780,569 785,570 790,568 793,566 797,565 800,562 803,561 805,560 806,565 807,564"/>
<g font-size="10" fill="#333"><text x="168" y="477" textLength="75" lengthAdjust="spacingAndGlyphs">c. Weather Station</text><text x="178" y="490">5 min average</text></g>
<g font-size="10.5" fill="#d9874a" text-anchor="middle"><text x="422" y="501">2m Air</text><text x="409" y="515">Temperature</text></g>
<g font-size="10.5" fill="#5a5ae0"><text x="273" y="549">2m Wind</text><text x="273" y="563">speed</text></g>
<g font-size="10" fill="#333" text-anchor="middle"><text x="247" y="595">Tues. 07</text><text x="425" y="595">Wed. 08</text><text x="617" y="595">Thrs. 09</text><text x="788" y="595">Fri.</text></g>

<!-- Panel d -->
<g clip-path="url(#clipD)">
<rect x="158" y="602" width="656" height="142" fill="url(#dBase)"/>
<rect x="158" y="602" width="184" height="142" fill="url(#dLeft)"/>
<polygon points="158,602 250,602 245,640 230,660 200,668 158,672" fill="#1e4ed6" opacity=".7"/>
<polygon points="250,744 258,640 270,620 290,606 305,604 315,640 325,690 338,744" fill="url(#dStreak)" opacity=".8"/>
<polygon points="212,744 220,700 232,680 245,666 255,660 262,680 266,744" fill="url(#dYel)"/>
<rect x="342" y="602" width="16" height="142" fill="#32a6e6"/>
<rect x="358" y="602" width="205" height="142" fill="#000c8c"/>
<polygon points="410,602 455,602 455,690 440,690 425,670 410,640" fill="url(#dMid)" opacity=".85"/>
<polygon points="358,680 440,690 440,744 358,744" fill="#0a22a8" opacity=".7"/>
<polygon points="358,744 358,729 392,728 410,722 425,712 435,700 438,680 441,668 444,744" fill="#8b0a0a"/>
<polygon points="441,744 441,668 446,640 452,622 458,626 464,650 470,680 478,700 488,744" fill="url(#dPlume)"/>
<polygon points="465,744 468,700 478,670 482,660 488,657 492,662 500,660 505,672 510,685 515,700 520,705 527,706 527,744" fill="#8b0a0a"/>
<polygon points="474,744 480,705 490,692 502,715 510,744" fill="url(#dPlume)"/>
<rect x="478" y="602" width="12" height="12" fill="#8b0a0a"/>
<rect x="563" y="602" width="47" height="40" fill="#1030b8"/>
<rect x="563" y="672" width="47" height="72" fill="url(#dCyan)"/>
<polygon points="527,744 527,706 545,706 550,700 555,693 560,692 563,660 565,647 575,645 585,642 595,638 605,636 610,640 610,670 600,672 590,675 580,670 570,675 566,690 563,744" fill="#8b0a0a"/>
<rect x="610" y="602" width="204" height="142" fill="url(#dRight)"/>
<polygon points="740,602 814,602 814,640 790,660 770,650 750,620" fill="#1a40c8"/>
<polygon points="760,744 772,700 790,670 805,650 814,640 814,744" fill="url(#dCyan)"/>
<rect x="610" y="705" width="150" height="39" fill="#2e8ee8" opacity=".6"/>
<line x1="342" y1="602" x2="342" y2="744" stroke="#fff" stroke-width="1.5"/>
<line x1="527" y1="602" x2="527" y2="744" stroke="#fff" stroke-width="1.5"/>
</g>
<g font-size="9" fill="#222" text-anchor="end">
<text x="152" y="585">Height</text><text x="152" y="595">[m AGL]</text>
<text x="152" y="606">1000</text><text x="152" y="642">750</text><text x="152" y="677">500</text><text x="152" y="712">250</text><text x="152" y="744">0</text>
</g>
<g fill="#eaf0ff"><text x="170" y="617" font-size="11">d. DGF Ceilometer</text><text x="182" y="631" font-size="11">Reflectivity</text>
<text x="172" y="673" font-size="9">Capa de</text><text x="174" y="686" font-size="9">Mezcla</text>
<text x="344" y="679" font-size="9">Nubes  bajas</text>
<text x="732" y="612" font-size="9" textLength="78" lengthAdjust="spacingAndGlyphs">Gentileza R. Muñoz</text></g>
<g stroke="#111" fill="none" stroke-width="1"><line x1="208" y1="697" x2="242" y2="715"/><path d="M235 715 L242 715 L239 709"/></g>
<g stroke="#fff" fill="none" stroke-width="1"><line x1="373" y1="692" x2="411" y2="722"/><path d="M404 721 L411 722 L409 715"/></g>

<g stroke="#777" stroke-width="1" fill="none"><line x1="298" y1="762" x2="447" y2="762"/><line x1="495" y1="762" x2="642" y2="762"/><path d="M634 757 L642 762 L634 767"/></g>
<text x="471" y="766" font-size="11" font-style="italic" fill="#222" text-anchor="middle">Time</text>

<text transform="translate(891,764) rotate(-90)" font-size="12.5" fill="#222" textLength="154" lengthAdjust="spacingAndGlyphs">® R. Garreaud CR2-DGF/UCh</text>

<!-- Photo -->
<g clip-path="url(#clipP)">
<rect x="738" y="9" width="266" height="178" fill="url(#sky)"/>
<path d="M738 86 Q745 74 755 80 Q765 72 780 80 Q795 70 810 82 Q825 76 840 84 Q855 78 870 84 Q885 80 900 86 Q915 82 930 84 Q945 70 960 68 Q975 66 985 80 Q995 84 1004 82 L1004 114 L738 114 Z" fill="#5c5d3e"/>
<ellipse cx="760" cy="96" rx="16" ry="14" fill="#4e5336"/>
<ellipse cx="795" cy="92" rx="22" ry="16" fill="#66653f"/>
<ellipse cx="830" cy="98" rx="14" ry="10" fill="#5f603c"/>
<ellipse cx="965" cy="86" rx="22" ry="20" fill="#5a5a3a"/>
<rect x="738" y="108" width="266" height="6" fill="#a9aaa4"/>
<rect x="738" y="114" width="266" height="73" fill="url(#grass)"/>
<ellipse cx="980" cy="165" rx="40" ry="26" fill="#5b7142"/>
<ellipse cx="955" cy="138" rx="22" ry="6" fill="#6a7a48"/>
<ellipse cx="910" cy="117" rx="16" ry="5" fill="#6a8048"/>
<line x1="761" y1="20" x2="761" y2="92" stroke="#6a6a6a" stroke-width="1.5"/>
<ellipse cx="868" cy="76" rx="8" ry="4" fill="#f07050"/>
<polygon points="798,121 938,123 943,128 792,125" fill="#33332c"/>
<polygon points="792,125 943,128 917,168 825,168" fill="#ecebe8"/>
<polygon points="792,125 842,126 852,168 825,168" fill="#dcdbd6"/>
<rect x="830" y="168" width="72" height="16" fill="#e2e0dc"/>
<rect x="830" y="182" width="72" height="5" fill="#8a8a86"/>
<text x="828" y="148" font-size="5" fill="#8a4040" font-style="italic">Scintec</text>
<text x="878" y="150" font-size="6" fill="#8a4040" font-style="italic">Scintec</text>
</g>
<g stroke="#111" fill="none" stroke-width="1"><line x1="914" y1="41" x2="888" y2="70"/><path d="M889 63 L888 70 L894 67"/></g>
<g font-size="8" fill="#222"><text x="924" y="37">Globo</text><text x="924" y="48">Cautivo</text></g>
<g stroke="#fff" fill="none" stroke-width="1"><line x1="790" y1="172" x2="812" y2="163"/><path d="M806 162 L812 163 L809 168"/></g>
<text x="746" y="178" font-size="8.5" fill="#fff">SODAR</text>
<text x="923" y="181" font-size="8.5" fill="#fff" textLength="76" lengthAdjust="spacingAndGlyphs">Gentileza L. Fariña</text>
</svg>
</body></html>
